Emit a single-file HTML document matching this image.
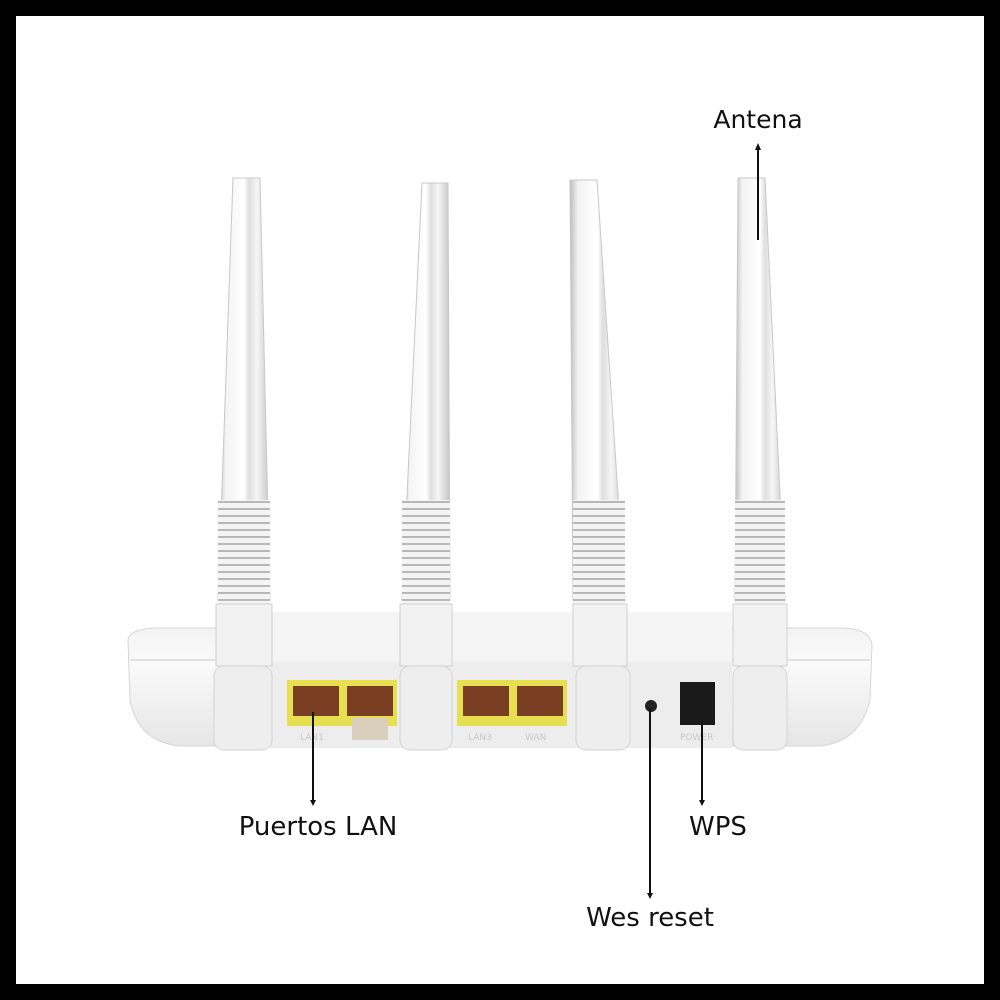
<!DOCTYPE html>
<html><head><style>
html,body{margin:0;padding:0;background:#000;}
svg{display:block}
text{font-family:"DejaVu Sans","Liberation Sans",sans-serif;fill:#111;}
</style></head><body>
<svg width="1000" height="1000" viewBox="0 0 1000 1000" xmlns="http://www.w3.org/2000/svg">
<defs>
<linearGradient id="ant" x1="0" x2="1" y1="0" y2="0">
<stop offset="0" stop-color="#bdbdbd"/><stop offset="0.15" stop-color="#f4f4f4"/><stop offset="0.5" stop-color="#fff"/><stop offset="0.6" stop-color="#dedede"/><stop offset="0.75" stop-color="#f6f6f6"/><stop offset="1" stop-color="#c4c4c4"/>
</linearGradient>
<linearGradient id="body" x1="0" x2="0" y1="0" y2="1">
<stop offset="0" stop-color="#f3f3f3"/><stop offset="0.3" stop-color="#fafafa"/><stop offset="1" stop-color="#e6e6e6"/>
</linearGradient>
<pattern id="ribs" width="10" height="7" patternUnits="userSpaceOnUse">
<rect width="10" height="7" fill="#f4f4f4"/><rect y="4" width="10" height="2" fill="#b8b8b8"/>
</pattern>
</defs>
<rect x="0" y="0" width="1000" height="1000" fill="#000"/>
<rect x="16" y="16" width="968" height="968" fill="#fff"/>

<path d="M128 640 Q130 628 160 628 L840 628 Q870 628 872 645 L870 700 Q860 742 820 746 L180 746 Q138 742 130 700 Z" fill="url(#body)" stroke="#d6d6d6"/>
<path d="M130 660 L870 660" stroke="#e2e2e2" stroke-width="2"/>
<rect x="270" y="662" width="462" height="86" fill="#ededed"/>
<rect x="270" y="612" width="462" height="50" fill="#f5f5f5"/>

<rect x="287" y="680" width="110" height="46" fill="#e6df52"/>
<rect x="293" y="686" width="46" height="30" fill="#7a3f22"/>
<rect x="347" y="686" width="46" height="30" fill="#7a3f22"/>
<rect x="352" y="718" width="36" height="22" fill="#d9cfbc"/>
<rect x="457" y="680" width="110" height="46" fill="#e6df52"/>
<rect x="463" y="686" width="46" height="30" fill="#7a3f22"/>
<rect x="517" y="686" width="46" height="30" fill="#7a3f22"/>
<circle cx="651" cy="706" r="6" fill="#222"/>
<rect x="680" y="682" width="35" height="43" fill="#1a1a1a"/>
<text x="300" y="740" font-size="9" style="fill:#c8c8c8">LAN1</text>
<text x="468" y="740" font-size="9" style="fill:#c8c8c8">LAN3</text>
<text x="525" y="740" font-size="9" style="fill:#c8c8c8">WAN</text>
<text x="680" y="740" font-size="9" style="fill:#c8c8c8">POWER</text>

<g>
<polygon points="233,178 260,178 270,600 218,600" fill="url(#ant)" stroke="#c8c8c8"/>
<rect x="218" y="500" width="52" height="104" fill="url(#ribs)"/>
<rect x="216" y="604" width="56" height="62" fill="#f2f2f2" stroke="#d0d0d0"/>
<rect x="214" y="666" width="58" height="84" rx="10" fill="#eeeeee" stroke="#d4d4d4"/>
</g>
<g>
<polygon points="422,183 448,183 450,600 402,600" fill="url(#ant)" stroke="#c8c8c8"/>
<rect x="402" y="500" width="48" height="104" fill="url(#ribs)"/>
<rect x="400" y="604" width="52" height="62" fill="#f2f2f2" stroke="#d0d0d0"/>
<rect x="400" y="666" width="52" height="84" rx="10" fill="#eeeeee" stroke="#d4d4d4"/>
</g>
<g>
<polygon points="570,180 597,180 625,600 573,600" fill="url(#ant)" stroke="#c8c8c8"/>
<rect x="573" y="500" width="52" height="104" fill="url(#ribs)"/>
<rect x="573" y="604" width="54" height="62" fill="#f2f2f2" stroke="#d0d0d0"/>
<rect x="576" y="666" width="54" height="84" rx="10" fill="#eeeeee" stroke="#d4d4d4"/>
</g>
<g>
<polygon points="738,178 765,178 785,600 735,600" fill="url(#ant)" stroke="#c8c8c8"/>
<rect x="735" y="500" width="50" height="104" fill="url(#ribs)"/>
<rect x="733" y="604" width="54" height="62" fill="#f2f2f2" stroke="#d0d0d0"/>
<rect x="733" y="666" width="54" height="84" rx="10" fill="#eeeeee" stroke="#d4d4d4"/>
</g>

<g stroke="#111" stroke-width="2" fill="none">
<line x1="758" y1="240" x2="758" y2="148"/>
<line x1="313" y1="712" x2="313" y2="802"/>
<line x1="702" y1="722" x2="702" y2="802"/>
<line x1="650" y1="708" x2="650" y2="895"/>
</g>
<g fill="#111">
<polygon points="755,150 761,150 758,143"/>
<polygon points="310,800 316,800 313,806"/>
<polygon points="699,800 705,800 702,806"/>
<polygon points="647,893 653,893 650,899"/>
</g>
<text x="758" y="128" font-size="25" text-anchor="middle">Antena</text>
<text x="318" y="835" font-size="26" text-anchor="middle">Puertos LAN</text>
<text x="718" y="835" font-size="26" text-anchor="middle">WPS</text>
<text x="650" y="926" font-size="26" text-anchor="middle">Wes reset</text>
</svg>
</body></html>
